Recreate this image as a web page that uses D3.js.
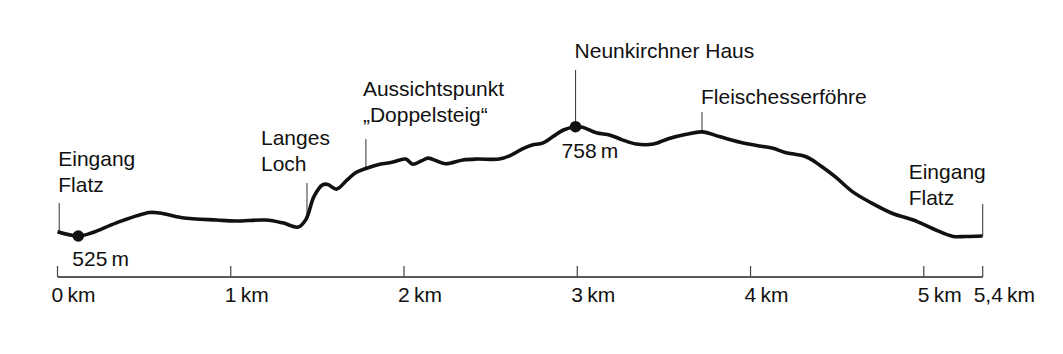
<!DOCTYPE html>
<html lang="de">
<head>
    <meta charset="UTF-8">
    <title>Höhenprofil</title>
    <script src="https://d3js.org/d3.v7.min.js"></script>
    <style>
        body { margin: 0; background: #fff; }
        svg { display: block; }
        text { font-family: "Liberation Sans", Arial, sans-serif; fill: #111; }
    </style>
</head>
<body>
<script>
    // profile: distance (km) and elevation (m)
    var distKm = [0, 0.12, 0.20, 0.34, 0.53, 0.59, 0.72, 0.92, 1.03, 1.20, 1.30, 1.39, 1.435,
        1.48, 1.53, 1.56, 1.61, 1.67, 1.72, 1.78, 1.86, 1.93, 2.01, 2.05, 2.10, 2.14, 2.19,
        2.24, 2.34, 2.42, 2.55, 2.61, 2.69, 2.74, 2.80, 2.86, 2.92, 2.99, 3.03, 3.11, 3.19,
        3.26, 3.34, 3.44, 3.53, 3.63, 3.72, 3.82, 3.94, 4.05, 4.13, 4.20, 4.32, 4.40, 4.49,
        4.59, 4.70, 4.82, 4.94, 5.05, 5.17, 5.24, 5.34];
    var elevM = [534, 525, 532, 553, 575, 574, 564, 559, 557, 559, 553, 544, 561,
        609, 634, 635, 625, 644, 660, 669, 678, 682, 689, 678, 685, 691, 685,
        679, 687, 689, 689, 696, 712, 719, 723, 737, 751, 758, 757, 745, 740,
        730, 721, 721, 733, 742, 747, 737, 725, 717, 712, 703, 694, 676, 651,
        619, 595, 573, 559, 541, 524, 524, 525];

    var totalKm = 5.34;
    var kmTicks = [0, 1, 2, 3, 4, 5];
    var kmTickLabels = ["0\u2009km", "1\u2009km", "2\u2009km", "3\u2009km", "4\u2009km", "5\u2009km"];
    var totalLabel = "5,4\u2009km";

    var placeKm = [0.01, 1.44, 1.78, 2.99, 3.72, 5.34];
    var placeNames = [["Eingang", "Flatz"], ["Langes", "Loch"], ["Aussichtspunkt", "\u201EDoppelsteig\u201C"],
        ["Neunkirchner Haus"], ["Fleischesserföhre"], ["Eingang", "Flatz"]];

    var spotKm = [0.12, 2.99];
    var spotElev = [525, 758];

    var w = 1063;
    var h = 354;
    var fontSize = 21;
    var lineGap = 25.5;

    var x = d3.scaleLinear().domain([0, totalKm]).range([57.5, 982.7]);
    var y = d3.scaleLinear().domain([525, 758]).range([236, 126.7]);

    var svg = d3.select("body")
        .append("svg")
        .attr("width", w)
        .attr("height", h);

    var profile = distKm.map(function(d, i) { return [d, elevM[i]]; });

    function elevAt(km) {
        var i = d3.bisector(function(d) { return d[0]; }).left(profile, km);
        if (i <= 0) return profile[0][1];
        if (i >= profile.length) return profile[profile.length - 1][1];
        var a = profile[i - 1], b = profile[i];
        return a[1] + (b[1] - a[1]) * (km - a[0]) / (b[0] - a[0]);
    }

    // axis
    var axisY = 277;
    svg.append("line")
        .attr("x1", x(0)).attr("x2", x(totalKm))
        .attr("y1", axisY).attr("y2", axisY)
        .attr("stroke", "#222").attr("stroke-width", 1.6);

    var tickVals = kmTicks.concat([totalKm]);
    svg.selectAll("line.tick")
        .data(tickVals)
        .enter()
        .append("line")
        .attr("class", "tick")
        .attr("x1", function(d) { return x(d); })
        .attr("x2", function(d) { return x(d); })
        .attr("y1", axisY - 11)
        .attr("y2", axisY)
        .attr("stroke", "#444")
        .attr("stroke-width", 1.2);

    svg.selectAll("text.ticklabel")
        .data(kmTicks)
        .enter()
        .append("text")
        .attr("class", "ticklabel")
        .attr("x", function(d) { return x(d) - 6; })
        .attr("y", axisY + 25)
        .style("font-size", fontSize + "px")
        .text(function(d, i) { return kmTickLabels[i]; });

    svg.append("text")
        .attr("x", x(totalKm) - 9)
        .attr("y", axisY + 25)
        .style("font-size", fontSize + "px")
        .text(totalLabel);

    // place markers and names
    var labelLayout = [
        {dx: -1, base: 166, top: 203},
        {dx: -46, base: 145, top: 183},
        {dx: -3, base: 96, top: 139},
        {dx: -1, base: 58, top: 70},
        {dx: -1, base: 104, top: 112},
        {dx: -74, base: 179, top: 204}
    ];

    placeKm.forEach(function(km, i) {
        var L = labelLayout[i];
        svg.append("line")
            .attr("x1", x(km)).attr("x2", x(km))
            .attr("y1", L.top)
            .attr("y2", y(elevAt(km)))
            .attr("stroke", "#444")
            .attr("stroke-width", 1.1);

        var t = svg.append("text")
            .attr("x", x(km) + L.dx)
            .attr("y", L.base)
            .style("font-size", fontSize + "px");
        placeNames[i].forEach(function(line, j) {
            t.append("tspan")
                .attr("x", x(km) + L.dx)
                .attr("y", L.base + j * lineGap)
                .text(line);
        });
    });

    // profile line
    var line = d3.line()
        .x(function(d) { return x(d[0]); })
        .y(function(d) { return y(d[1]); })
        .curve(d3.curveCatmullRom.alpha(0.5));

    svg.append("path")
        .datum(profile)
        .attr("fill", "none")
        .attr("stroke", "#111")
        .attr("stroke-width", 3.6)
        .attr("stroke-linejoin", "round")
        .attr("d", line);

    // elevation spots
    var spotOffset = [[-6, 30], [-14, 31]];
    svg.selectAll("circle")
        .data(spotKm)
        .enter()
        .append("circle")
        .attr("cx", function(d) { return x(d); })
        .attr("cy", function(d, i) { return y(spotElev[i]); })
        .attr("r", 5.8)
        .attr("fill", "#111");

    svg.selectAll("text.spot")
        .data(spotKm)
        .enter()
        .append("text")
        .attr("class", "spot")
        .attr("x", function(d, i) { return x(d) + spotOffset[i][0]; })
        .attr("y", function(d, i) { return y(spotElev[i]) + spotOffset[i][1]; })
        .style("font-size", fontSize + "px")
        .text(function(d, i) { return spotElev[i] + "\u2009m"; });
</script>
</body>
</html>
